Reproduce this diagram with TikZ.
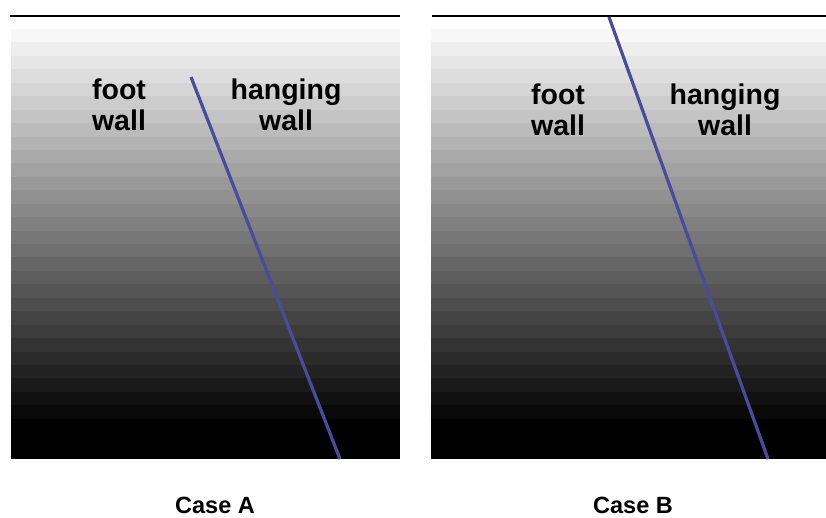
\documentclass[tikz,border=0pt]{standalone}
\usepackage{fontspec}
\setmainfont{Liberation Sans}
\usetikzlibrary{positioning}

\begin{document}
\begin{tikzpicture}[
    x=1pt, y=-1pt,
    fault/.style={draw={rgb,255:red,75;green,75;blue,155}, line width=3.2pt},
    surface/.style={draw=black, line width=1.6pt},
    wall/.style={font=\fontsize{28.5}{31}\selectfont\bfseries, align=center,
                 inner sep=0pt, anchor=north},
    caption/.style={font=\fontsize{23.5}{26}\selectfont\bfseries, inner sep=0pt,
                    anchor=base},
  ]
  \useasboundingbox (0,0) rectangle (826,518);

  % layered fill, light at the top, black at the base
  \foreach \k in {0,...,31} {
    \pgfmathtruncatemacro{\g}{max(0,247-8.5*\k)}
    \definecolor{band}{RGB}{\g,\g,\g}
    \fill[band] (11,{29+13.44*\k}) rectangle (400,{29.4+13.44*(\k+1)});
    \fill[band] (431,{29+13.44*\k}) rectangle (826,{29.4+13.44*(\k+1)});
  }
  \fill[white] (0,459) rectangle (826,470);

  % ground surface
  \draw[surface] (10,16) -- (400,16);
  \draw[surface] (432,16) -- (826,16);

  % Case A
  \coordinate (topA) at (191,77);
  \coordinate (baseA) at (340,459);
  \draw[fault] (topA) -- (baseA);
  \node[wall] (footA) at (119,79) {foot\\wall};
  \node[wall] (hangA) at (286,79) {hanging\\wall};
  \node[caption] (caseA) at (215,513) {Case A};

  % Case B
  \coordinate (topB) at (609,17);
  \coordinate (baseB) at (768,459);
  \draw[fault] (topB) -- (baseB);
  \node[wall] (footB) at (558,84) {foot\\wall};
  \node[wall] (hangB) at (725,84) {hanging\\wall};
  \node[caption] (caseB) at (633,513) {Case B};

\end{tikzpicture}
\end{document}
